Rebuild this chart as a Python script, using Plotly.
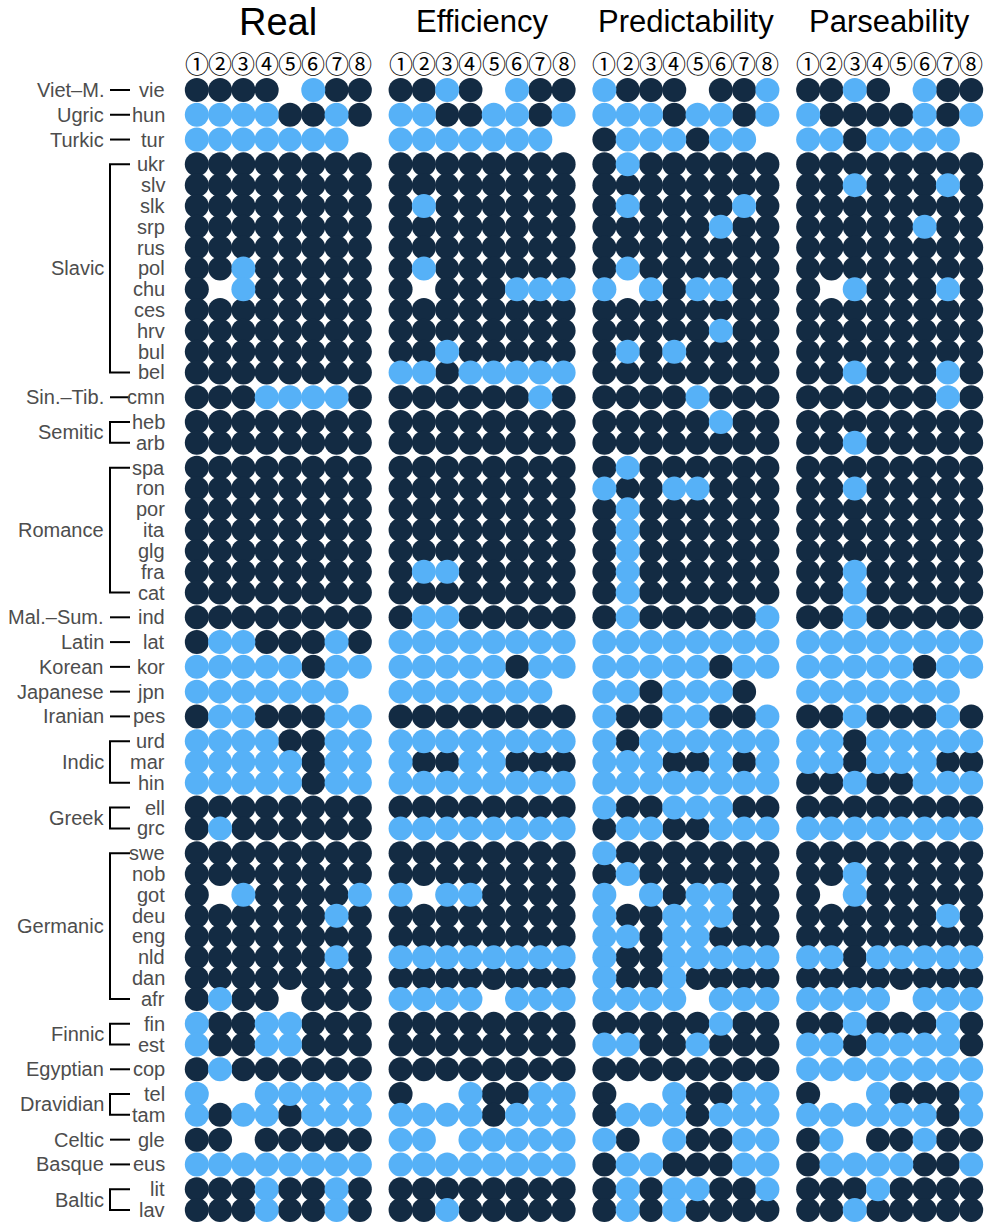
import plotly.graph_objects as go

# Languages (rows, top to bottom) and their families
LANGS = ["vie", "hun", "tur",
         "ukr", "slv", "slk", "srp", "rus", "pol", "chu", "ces", "hrv", "bul", "bel",
         "cmn", "heb", "arb",
         "spa", "ron", "por", "ita", "glg", "fra", "cat",
         "ind", "lat", "kor", "jpn", "pes", "urd", "mar", "hin", "ell", "grc",
         "swe", "nob", "got", "deu", "eng", "nld", "dan", "afr",
         "fin", "est", "cop", "tel", "tam", "gle", "eus", "lit", "lav"]
FAMILY_NAMES = ["Viet–M.", "Ugric", "Turkic", "Slavic", "Sin.–Tib.", "Semitic", "Romance",
                "Mal.–Sum.", "Latin", "Korean", "Japanese", "Iranian", "Indic", "Greek",
                "Germanic", "Finnic", "Egyptian", "Dravidian", "Celtic", "Basque", "Baltic"]
FAMILY_SIZES = [1, 1, 1, 11, 1, 2, 7, 1, 1, 1, 1, 1, 3, 2, 8, 2, 1, 2, 1, 1, 2]

PANELS = ["Real", "Efficiency", "Predictability", "Parseability"]
RELATION_LABELS = ["①", "②", "③", "④", "⑤", "⑥", "⑦", "⑧"]

# Per language: 8 relations, "1" = dark value, "0" = light value, "." = no data
REAL = ["1111.011", "00001101", "0000000.",
        "11111111", "11111111", "11111111", "11111111", "11111111", "11011111", "1.011111",
        "11111111", "11111111", "11111111", "11111111",
        "11100001", "11111111", "11111111",
        "11111111", "11111111", "11111111", "11111111", "11111111", "11111111", "11111111",
        "11111111", "10011101", "00000100", "0000000.", "10011100",
        "00001100", "00000100", "00000100", "11111111", "10111111",
        "11111111", "11111111", "1.011110", "11111101", "11111111", "11111101", "11111111", "1011.111",
        "01100111", "01100111", "10111111", "0..00000", "01001000", "11.11111", "00000000",
        "11101101", "11101101"]
EFFICIENCY = ["1101.011", "00110010", "0000000.",
              "11111111", "11111111", "10111111", "11111111", "11111111", "10111111", "1.111000",
              "11111111", "11111111", "11011111", "00100000",
              "11111101", "11111111", "11111111",
              "11111111", "11111111", "11111111", "11111111", "11111111", "10011111", "11111111",
              "10011111", "00000000", "00000100", "0000000.", "11111111",
              "00000000", "01100111", "00000000", "11111111", "00000000",
              "11111111", "11111111", "0.001111", "11111111", "11111111", "00000000", "11111111", "0000.000",
              "11111111", "11111111", "11111111", "1..01100", "00001000", "00.00000", "00000000",
              "11111111", "11011111"]
PREDICTABILITY = ["0111.110", "00010010", "1000100.",
                  "10111111", "11111111", "10111101", "11111011", "11111111", "10111111", "0.010011",
                  "11111111", "11111011", "10101111", "11111111",
                  "11110111", "11111011", "11111111",
                  "10111111", "01100111", "10111111", "10111111", "10111111", "10111111", "10111111",
                  "10111110", "00000000", "00000100", "0010001.", "01100110",
                  "01000000", "00011010", "00000000", "01100011", "10011000",
                  "01111111", "10111111", "0.010011", "01100011", "00100111", "01100000", "01101111", "0000.000",
                  "11111011", "00110111", "11111111", "1..01100", "10001000", "01.01100", "10011100",
                  "10100110", "10101111"]
PARSEABILITY = ["1101.011", "01111010", "0010000.",
                "11111111", "11011101", "11111111", "11111011", "11111111", "11111111", "1.011101",
                "11111111", "11111111", "11111111", "11011101",
                "11111101", "11111111", "11011111",
                "11111111", "11011111", "11111111", "11111111", "11111111", "11011111", "11011111",
                "11011111", "00000000", "00000100", "0000000.", "11011101",
                "00100000", "00100011", "11011000", "11111111", "00000000",
                "11111111", "11011111", "1.011111", "11111101", "11111111", "00100000", "11111111", "0000.000",
                "11011101", "00100001", "00000000", "1..01110", "00000010", "10.11011", "10000110",
                "11101111", "11011111"]

DARK = "#132B43"
LIGHT = "#56B1F7"
TEXT_GREY = "#4D4D4D"

W, H = 985, 1228
M_L, M_R, M_T, M_B = 184, 1, 70, 4
PANEL_STEP = 8.75          # columns per panel incl. spacing
FAMILY_GAP = 0.19          # extra space between families (row units)
X_RANGE = [-0.55, 33.8]

# Row positions with a small gap between families
row_y = []
for f, size in enumerate(FAMILY_SIZES):
    for _ in range(size):
        row_y.append(len(row_y) + f * FAMILY_GAP)
Y_RANGE = [row_y[-1] + 0.672, -0.96]

plot_w = W - M_L - M_R
plot_h = H - M_T - M_B


def px_to_paper_x(px):
    return (px - M_L) / plot_w


def px_to_paper_y(py):
    return (H - M_B - py) / plot_h


fig = go.Figure()

panel_data = [REAL, EFFICIENCY, PREDICTABILITY, PARSEABILITY]
for code, color in (("1", DARK), ("0", LIGHT)):
    xs, ys = [], []
    for p, rows in enumerate(panel_data):
        for r, s in enumerate(rows):
            for c, ch in enumerate(s):
                if ch == code:
                    xs.append(p * PANEL_STEP + c)
                    ys.append(row_y[r])
    fig.add_trace(go.Scatter(
        x=xs, y=ys, mode="markers", cliponaxis=False, hoverinfo="skip",
        marker=dict(size=24, color=color, line=dict(width=0)),
        showlegend=False))

annotations = []
# Panel titles and relation numbers
for p, name in enumerate(PANELS):
    annotations.append(dict(
        text=name, x=p * PANEL_STEP + 3.5, xref="x", y=px_to_paper_y(22), yref="paper",
        showarrow=False, xanchor="center", yanchor="middle",
        font=dict(family="Liberation Sans, Arial", size=38 if p == 0 else 31, color="black")))
    for c, lab in enumerate(RELATION_LABELS):
        annotations.append(dict(
            text=lab, x=p * PANEL_STEP + c, xref="x", y=px_to_paper_y(62), yref="paper",
            showarrow=False, xanchor="center", yanchor="middle",
            font=dict(family="Noto Sans CJK JP", size=24, color="black")))

label_font = dict(family="Liberation Sans, Arial", size=20, color=TEXT_GREY)

# Language codes
for r, code in enumerate(LANGS):
    annotations.append(dict(
        text=code, x=px_to_paper_x(167), xref="paper", y=row_y[r], yref="y",
        showarrow=False, xanchor="right", yanchor="middle", font=label_font))

# Family labels and brackets
shapes = []
bx0, bx1 = px_to_paper_x(110), px_to_paper_x(130)
line_style = dict(color="black", width=2)
start = 0
for name, size in zip(FAMILY_NAMES, FAMILY_SIZES):
    y_first = row_y[start]
    y_last = row_y[start + size - 1]
    annotations.append(dict(
        text=name, x=px_to_paper_x(106), xref="paper", y=(y_first + y_last) / 2, yref="y",
        showarrow=False, xanchor="right", yanchor="middle", font=label_font))
    if size == 1:
        shapes.append(dict(type="line", xref="paper", yref="y", x0=bx0, x1=bx1,
                           y0=y_first, y1=y_first, line=line_style))
    else:
        shapes.append(dict(type="path", xref="paper", yref="y",
                           path=f"M {bx1},{y_first} L {bx0},{y_first} L {bx0},{y_last} L {bx1},{y_last}",
                           line=line_style))
    start += size

fig.update_layout(
    width=W, height=H,
    margin=dict(l=M_L, r=M_R, t=M_T, b=M_B),
    paper_bgcolor="white", plot_bgcolor="white",
    xaxis=dict(range=X_RANGE, visible=False, fixedrange=True),
    yaxis=dict(range=Y_RANGE, visible=False, fixedrange=True),
    annotations=annotations, shapes=shapes,
)

fig.write_html("out.html")
